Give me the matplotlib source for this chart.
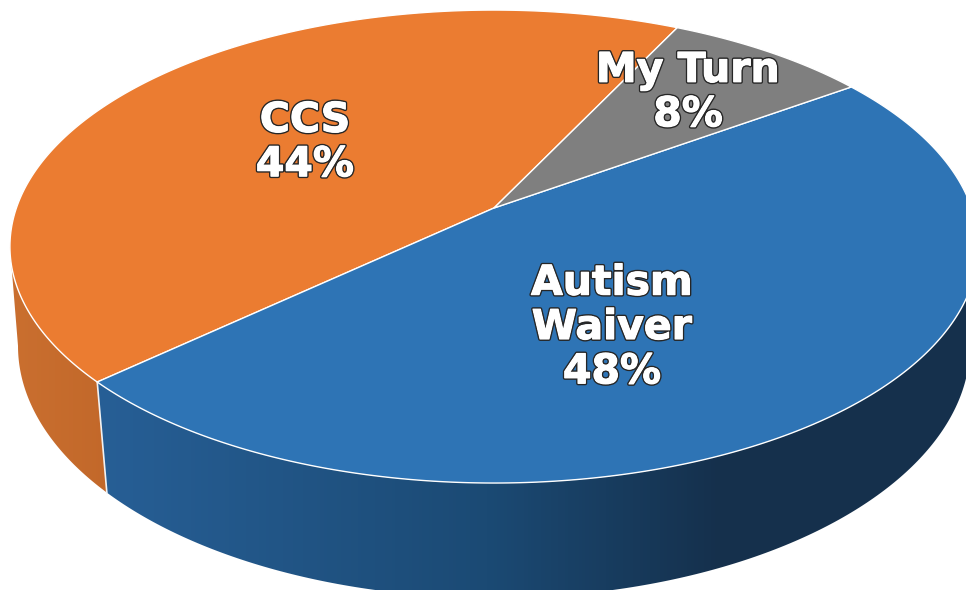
import numpy as np
import matplotlib
matplotlib.use("Agg")
import matplotlib.pyplot as plt
import matplotlib.patheffects as pe
from matplotlib.patches import Polygon

names = ["CCS", "Autism\nWaiver", "My Turn"]
values = [44, 48, 8]
colors = ["#EB7C31", "#2E74B5", "#7F7F7F"]
label_pos = [(305, 143), (612, 328), (688, 93)]

start_deg = 63.9

# perspective discs, fitted to the picture
cx = 494
top_disc = (208, 477.6, 230.2, 0.163)
low_disc = (308.2, 470.6, 246.3, 0.15)


def edge(theta, disc):
    cy, a, b, k = disc
    w = 1 + k * np.sin(theta)
    return cx + a * np.cos(theta) / w, cy - b * np.sin(theta) / w


def side_poly(top_range, low_range):
    xt, yt = edge(np.linspace(*top_range, 200), top_disc)
    xl, yl = edge(np.linspace(*low_range, 200), low_disc)
    return np.r_[xt, xl[::-1]], np.r_[yt, yl[::-1]]


fig = plt.figure(figsize=(9.66, 5.9), dpi=100)
ax = fig.add_axes([0, 0, 1, 1])
ax.set_xlim(0, 966)
ax.set_ylim(590, 0)
ax.axis("off")

edges = np.radians(start_deg + np.r_[0, np.cumsum(values)] * 3.6)
left_top = np.pi + np.arcsin(top_disc[3])
left_low = np.pi + np.arcsin(low_disc[3])
right_top = 2 * np.pi - np.arcsin(top_disc[3])
right_low = 2 * np.pi - np.arcsin(low_disc[3])

# side walls with a horizontal gradient
side_ramps = [
    ((left_top, edges[1]), (left_low, edges[1]), [(0, "#CB7030"), (1, "#C2682A")], 0, 110),
    ((edges[1], right_top), (edges[1], right_low),
     [(0, "#275F96"), (0.45, "#1B4A74"), (0.72, "#15304C"), (1, "#15304C")], 96, 966),
]
for top_range, low_range, stops, x0, x1 in side_ramps:
    cmap = matplotlib.colors.LinearSegmentedColormap.from_list("side", stops)
    xs, ys = side_poly(top_range, low_range)
    im = ax.imshow(np.linspace(0, 1, 256)[None, :], cmap=cmap, extent=(x0, x1, 600, 0),
                   aspect="auto", zorder=1)
    poly = Polygon(np.c_[xs, ys], closed=True, transform=ax.transData, fc="none", ec="none")
    ax.add_patch(poly)
    im.set_clip_path(poly)
ax.set_xlim(0, 966)
ax.set_ylim(590, 0)

# white seam between orange and blue walls
sx, sy = edge(edges[1], top_disc)
lx, ly = edge(edges[1], low_disc)
ax.plot([sx, lx], [sy, ly], color="#F2F2F2", lw=1.2, zorder=2)

# top face
for i, color in enumerate(colors):
    th = np.linspace(edges[i], edges[i + 1], 300)
    xs, ys = edge(th, top_disc)
    ax.fill(np.r_[cx, xs], np.r_[top_disc[0], ys], fc=color, ec="white", lw=1.0, zorder=3,
            joinstyle="round")

for name, val, (x, y) in zip(names, values, label_pos):
    ax.text(x, y, f"{name}\n{val}%", ha="center", va="center", color="white", fontsize=29.5,
            fontweight="bold", family="DejaVu Sans", zorder=5, linespacing=1.14,
            path_effects=[pe.withStroke(linewidth=2.8, foreground="#262626"),
                          pe.withStroke(linewidth=0.8, foreground="white")])

fig.savefig("out.png", dpi=100, facecolor="white")
